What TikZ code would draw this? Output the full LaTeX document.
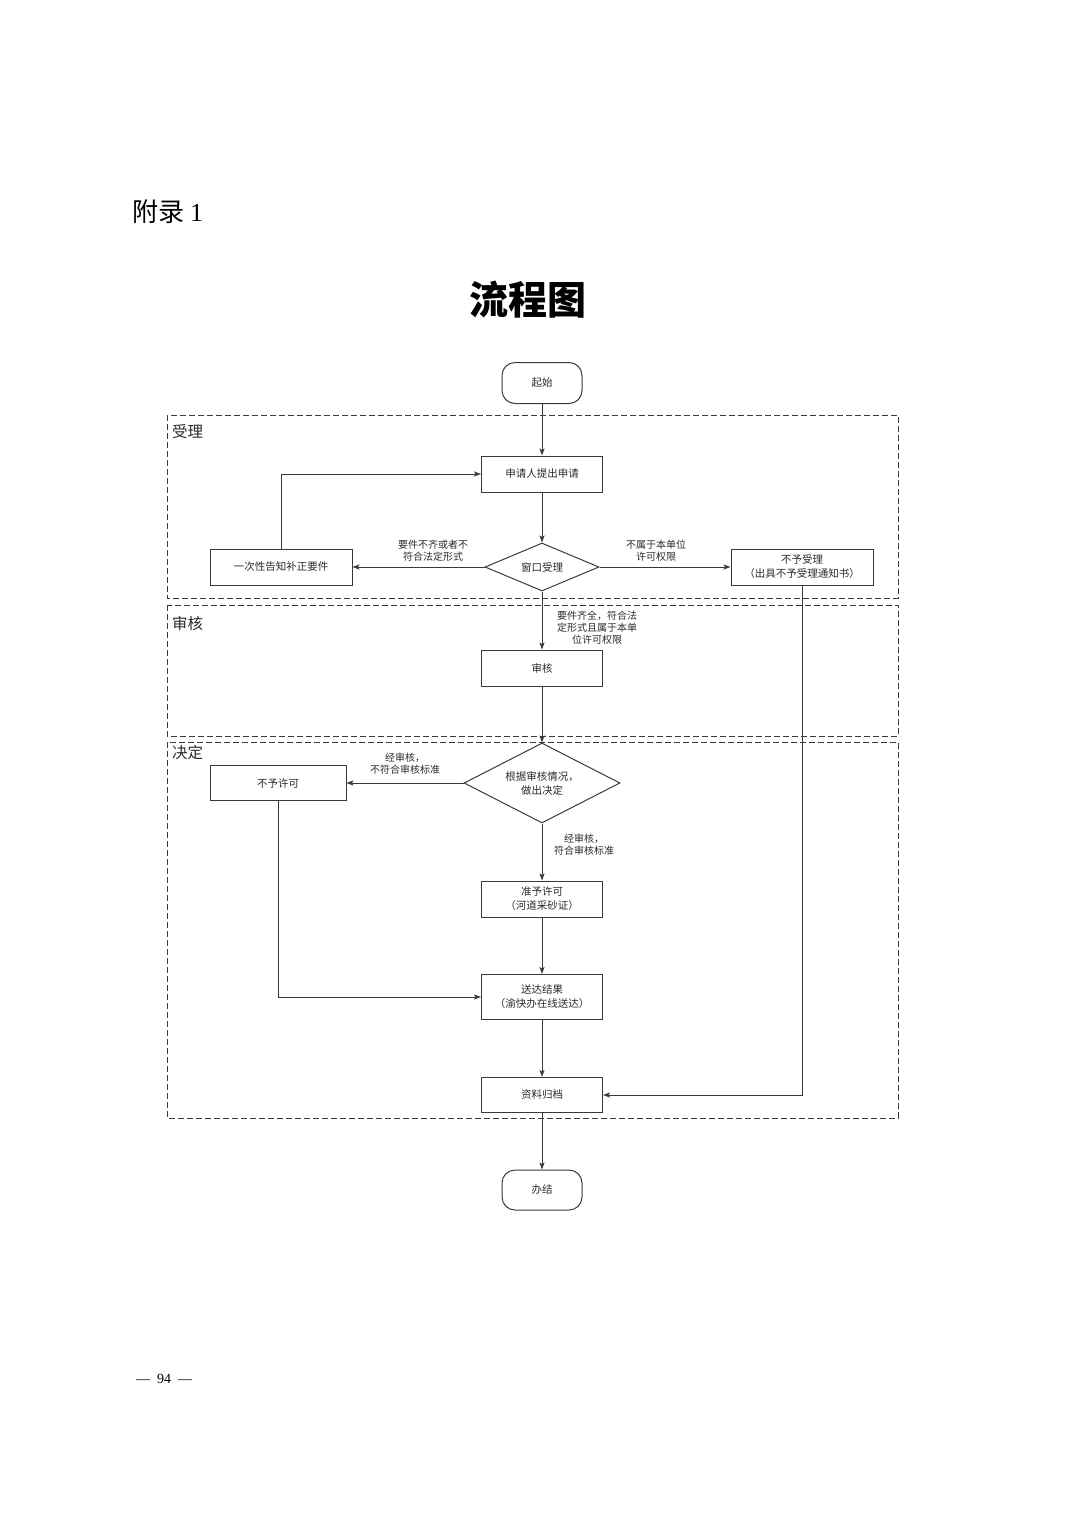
\documentclass[tikz,border=0pt]{standalone}
\usepackage{fontspec}
\setmainfont{Liberation Serif}
\newfontfamily\cjk{Noto Sans CJK SC}
\usetikzlibrary{positioning}
\usetikzlibrary{shapes.geometric}
\usetikzlibrary{arrows.meta}

\definecolor{linegray}{HTML}{3A3A3A}
\definecolor{textgray}{HTML}{2A2A2A}

\tikzset{
  box/.style={draw=linegray, line width=1pt, rectangle, minimum width=121pt, minimum height=36pt,
    inner sep=1pt, align=center, text=textgray, font=\cjk\fontsize{10.5}{14}\selectfont},
  term/.style={box, rounded corners=13pt, minimum width=80pt, minimum height=41pt},
  check/.style={box, diamond, aspect=2.4},
  lab/.style={align=center, text=textgray, inner sep=0pt, font=\cjk\fontsize{10}{12}\selectfont},
  stage/.style={anchor=west, text=textgray, inner sep=0pt, font=\cjk\fontsize{15.5}{16}\selectfont},
  region/.style={draw=linegray, line width=0.8pt, dash pattern=on 6pt off 3pt},
  link/.style={draw=linegray, line width=1pt, -{Stealth[length=7pt,width=5pt,inset=1.5pt]}}
}

\begin{document}
\begin{tikzpicture}[x=1pt, y=-1pt]
\useasboundingbox (0,0) rectangle (1074,1520);

% heading
\node[anchor=west, inner sep=0pt] (apx) at (132,212) {\cjk\fontsize{26}{28}\selectfont 附录\ \rmfamily 1};
\node[inner sep=0pt] (title) at (528,300) {\cjk\bfseries\fontsize{39}{40}\selectfont 流程图};

% stages
\draw[region] (167,415) rectangle (898,598);
\draw[region] (167,605) rectangle (898,736);
\draw[region] (167,742) rectangle (898,1118);
\node[stage] (s1) at (172,432) {受理};
\node[stage] (s2) at (172,624) {审核};
\node[stage] (s3) at (172,753) {决定};

% steps
\node[term] (start) at (542,383) {起始};
\node[box] (apply) at (542,474) {申请人提出申请};
\node[check, minimum width=114pt, minimum height=48pt] (window) at (542,567) {窗口受理};
\node[box, minimum width=142pt] (notify) at (281,567) {一次性告知补正要件};
\node[box, minimum width=142pt] (reject) at (802,567) {不予受理\\（出具不予受理通知书）};
\node[box] (review) at (542,668) {审核};
\node[check, minimum width=156pt, minimum height=80pt] (decide) at (542,783) {根据审核情况，\\做出决定};
\node[box, minimum width=136pt, minimum height=35pt] (deny) at (278,783) {不予许可};
\node[box] (grant) at (542,899) {准予许可\\（河道采砂证）};
\node[box, minimum height=45pt] (deliver) at (542,997) {送达结果\\（渝快办在线送达）};
\node[box, minimum height=35pt] (archive) at (542,1095) {资料归档};
\node[term, minimum height=40pt] (finish) at (542,1190) {办结};

% labels
\node[lab] (l1) at (433,551) {要件不齐或者不\\符合法定形式};
\node[lab] (l2) at (656,551) {不属于本单位\\许可权限};
\node[lab] (l3) at (597,628) {要件齐全，符合法\\定形式且属于本单\\位许可权限};
\node[lab] (l4) at (405,764) {经审核，\\不符合审核标准};
\node[lab] (l5) at (584,845) {经审核，\\符合审核标准};

% connectors
\draw[link] (start) -- (apply);
\draw[link] (apply) -- (window);
\draw[link] (window) -- (notify);
\draw[link] (window) -- (reject);
\draw[link] (notify.north) |- (apply.west);
\draw[link] (window) -- (review);
\draw[link] (review) -- (decide);
\draw[link] (decide) -- (deny);
\draw[link] (decide) -- (grant);
\draw[link] (grant) -- (deliver);
\draw[link] (deny.south) |- (deliver.west);
\draw[link] (deliver) -- (archive);
\draw[link] (reject.south) |- (archive.east);
\draw[link] (archive) -- (finish);

% page number
\node[inner sep=0pt] (page) at (164,1379) {\fontsize{14}{16}\selectfont —\ \ 94\ \ —};
\end{tikzpicture}
\end{document}
